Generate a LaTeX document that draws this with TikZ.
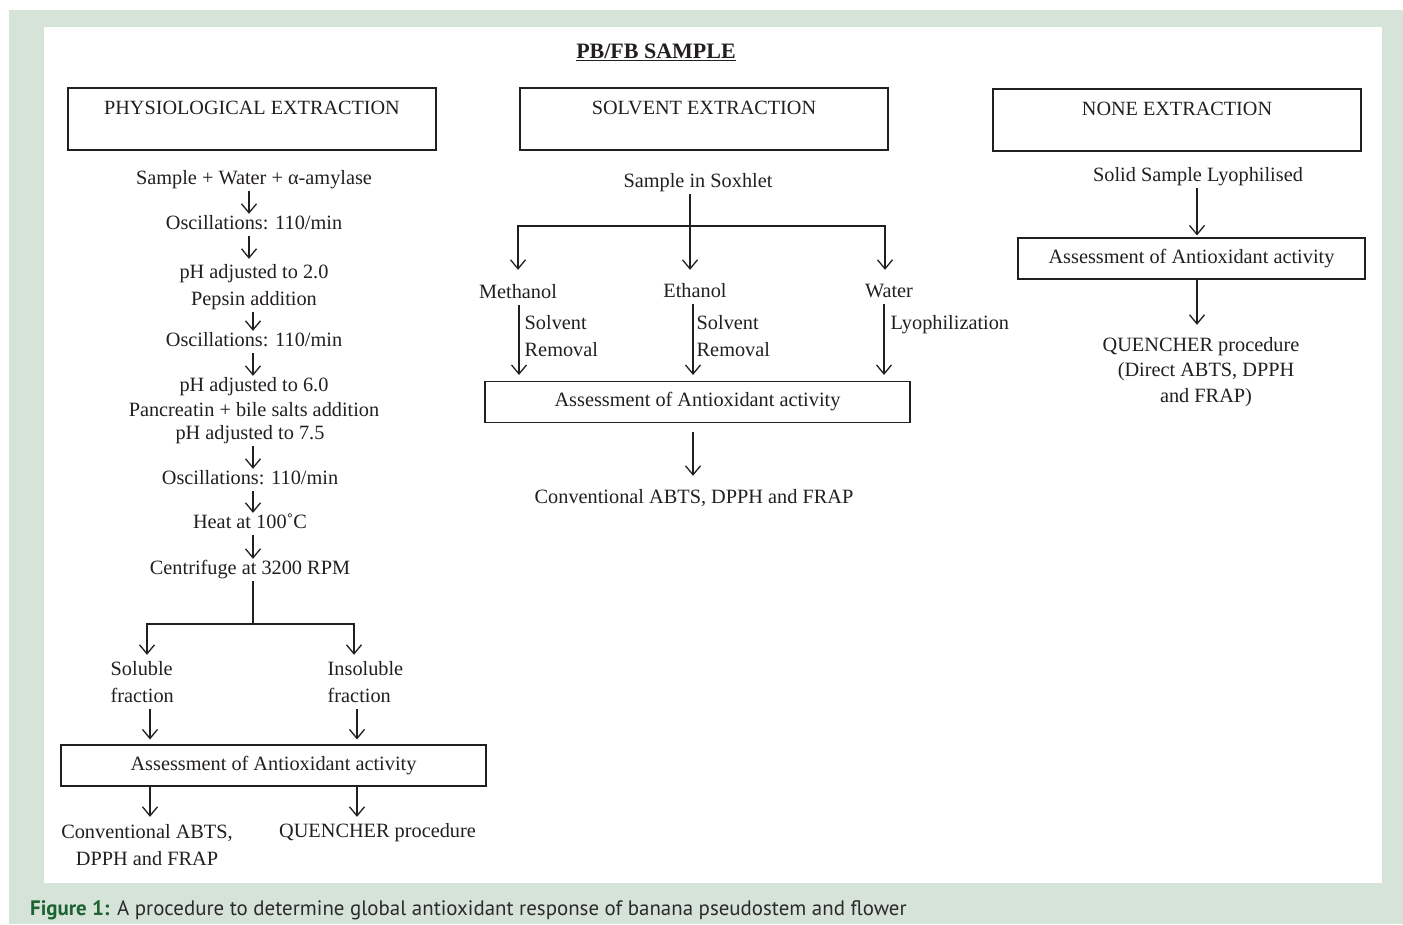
\documentclass[tikz,border=0pt]{standalone}
\usepackage{fontspec}
\setmainfont{Liberation Serif}
\newfontfamily\capfont{PT Sans}
\usetikzlibrary{arrows.meta,calc}
\definecolor{ink}{HTML}{231F20}
\definecolor{bgG}{HTML}{D6E3D9}
\definecolor{capG}{HTML}{1B6330}
\definecolor{capT}{HTML}{2B2B2B}
\begin{document}
\begin{tikzpicture}[x=1pt,y=-1pt,
  txt/.style={font=\fontsize{20.3}{23}\selectfont, inner sep=1.5pt, text height=14pt, text depth=5pt, text=ink},
  hdr/.style={draw=ink, line width=1.1pt, font=\fontsize{20.2}{23}\selectfont, text=ink, inner sep=0pt, text height=26pt, text depth=36pt, minimum width=368pt},
  abox/.style={draw=ink, line width=1.1pt, font=\fontsize{20.3}{23}\selectfont, text=ink, inner sep=0pt, text height=14pt, text depth=5pt, minimum height=41pt},
  arr/.style={draw=ink, line width=1.3pt, -{Straight Barb[length=9pt,width=15pt,line width=1.3pt]}},
  ln/.style={draw=ink, line width=1.3pt}]
\useasboundingbox (0,0) rectangle (1403,924);
\fill[bgG] (9,10) rectangle (1403,924);
\fill[white] (44,27) rectangle (1382,883);

% title
\node[txt, font=\fontsize{22}{25}\selectfont\bfseries] (title) at (656,54) {\underline{PB/FB SAMPLE}};

% header boxes
\node[hdr] (phys) at (252,119) {PHYSIOLOGICAL EXTRACTION};
\node[hdr] (solv) at (704,119) {SOLVENT EXTRACTION};
\node[hdr] (none) at (1177,120) {NONE EXTRACTION};

% ---------- left column
\coordinate (cA) at (249,0);
\coordinate (cL) at (253,0);
\node[txt] (l1) at (254,180) {Sample + Water + α-amylase};
\node[txt] (l2) at (254,225) {Oscillations: 110/min};
\node[txt] (l3) at (254,274) {pH adjusted to 2.0};
\node[txt] (l4) at (254,301) {Pepsin addition};
\node[txt] (l5) at (254,342) {Oscillations: 110/min};
\node[txt] (l6) at (254,387) {pH adjusted to 6.0};
\node[txt] (l7) at (254,412) {Pancreatin + bile salts addition};
\node[txt] (l8) at (250,435) {pH adjusted to 7.5};
\node[txt] (l9) at (250,480) {Oscillations: 110/min};
\node[txt] (l10) at (250,524) {Heat at 100˚C};
\node[txt] (l11) at (250,570) {Centrifuge at 3200 RPM};

\draw[arr] (l1.south -| cA) -- (l2.north -| cA);
\draw[arr] (l2.south -| cA) -- ([yshift=4pt]l3.north -| cA);
\draw[arr] (l4.south -| cL) -- (l5.north -| cL);
\draw[arr] (l5.south -| cL) -- (l6.north -| cL);
\draw[arr] (l8.south -| cL) -- (l9.north -| cL);
\draw[arr] (l9.south -| cL) -- (l10.north -| cL);
\draw[arr] (l10.south -| cL) -- (l11.north -| cL);

\coordinate (jL) at (253,624);
\coordinate (cS) at (147,0);
\coordinate (cI) at (354,0);
\node[txt, anchor=west] (s1) at (109,671) {Soluble};
\node[txt, anchor=west] (s2) at (109,698) {fraction};
\node[txt, anchor=west] (i1) at (326,671) {Insoluble};
\node[txt, anchor=west] (i2) at (326,698) {fraction};
\draw[ln] (l11.south -| cL) -- (jL);
\draw[arr] (jL) -| ([yshift=5pt]s1.north -| cS);
\draw[arr] (jL) -| ([yshift=5pt]i1.north -| cI);

\node[abox, minimum width=425pt] (bL) at (273.5,765.5) {Assessment of Antioxidant activity};
\coordinate (cS2) at (150,0);
\coordinate (cI2) at (357,0);
\draw[arr] (s2.south -| cS2) -- ([yshift=5pt]bL.north -| cS2);
\draw[arr] (i2.south -| cI2) -- ([yshift=5pt]bL.north -| cI2);

\node[txt] (c1) at (147,834) {Conventional ABTS,};
\node[txt] (c2) at (147,861) {DPPH and FRAP};
\node[txt] (q1) at (377.5,833) {QUENCHER procedure};
\draw[arr] (bL.south -| cS2) -- ([yshift=6pt]c1.north -| cS2);
\draw[arr] (bL.south -| cI2) -- ([yshift=5pt]q1.north -| cI2);

% ---------- middle column
\node[txt] (sox) at (698,183) {Sample in Soxhlet};
\node[txt] (meth) at (518,294) {Methanol};
\node[txt] (eth) at (695,293) {Ethanol};
\node[txt] (wat) at (889,293) {Water};
\coordinate (cE) at (690,0);
\coordinate (jM) at (690,226);
\coordinate (cMe) at (518,0);
\coordinate (cW) at (885,0);
\draw[arr] (sox.south -| cE) -- ([yshift=12pt]eth.north -| cE);
\draw[arr] (jM) -| ([yshift=13pt]meth.north -| cMe);
\draw[arr] (jM) -| ([yshift=12pt]wat.north -| cW);

\node[abox, minimum width=425pt] (bM) at (697.5,402) {Assessment of Antioxidant activity};
\coordinate (a1) at (519,0);
\coordinate (a2) at (693,0);
\coordinate (a3) at (884,0);
\draw[arr] (meth.south -| a1) -- ([yshift=6pt]bM.north -| a1);
\draw[arr] (eth.south -| a2) -- ([yshift=6pt]bM.north -| a2);
\draw[arr] (wat.south -| a3) -- ([yshift=6pt]bM.north -| a3);
\node[txt, anchor=west] (sv1) at (523,325) {Solvent};
\node[txt, anchor=west] (sv2) at (523,352) {Removal};
\node[txt, anchor=west] (sv3) at (695,325) {Solvent};
\node[txt, anchor=west] (sv4) at (695,352) {Removal};
\node[txt, anchor=west] (ly) at (889,325) {Lyophilization};

\node[txt] (conv) at (694,499) {Conventional ABTS, DPPH and FRAP};
\draw[arr] ([yshift=-9pt]bM.south -| a2) -- ([yshift=12pt]conv.north -| a2);

% ---------- right column
\node[txt] (sol) at (1198,177) {Solid Sample Lyophilised};
\node[abox, minimum width=347pt] (bR) at (1191.5,258.5) {Assessment of Antioxidant activity};
\coordinate (cR) at (1197,0);
\draw[arr] (sol.south -| cR) -- ([yshift=2pt]bR.north -| cR);
\node[txt] (r1) at (1201,347) {QUENCHER procedure};
\node[txt] (r2) at (1206,372) {(Direct ABTS, DPPH};
\node[txt] (r3) at (1206,398) {and FRAP)};
\draw[arr] (bR.south -| cR) -- ([yshift=11pt]r1.north -| cR);

% caption
\node[anchor=base west, inner sep=0pt, font=\capfont\fontsize{20.9}{24}\selectfont, text=capT] (cap) at (30,915)
  {{\bfseries\color{capG}Figure 1:} A procedure to determine global antioxidant response of banana pseudostem and flower};
\end{tikzpicture}
\end{document}
